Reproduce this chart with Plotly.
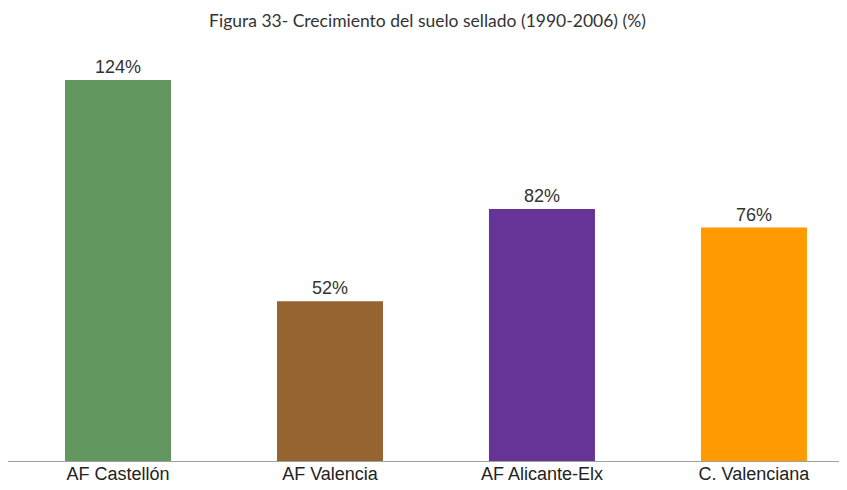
import plotly.graph_objects as go

# Crecimiento del suelo sellado 1990-2006 (%)
categories = ["AF Castellón", "AF Valencia", "AF Alicante-Elx", "C. Valenciana"]
values = [124, 52, 82, 76]
labels = ["124%", "52%", "82%", "76%"]
colors = ["#62975f", "#966430", "#663397", "#ff9a00"]

LABEL_FONT = "Liberation Sans Narrow, Liberation Sans, Arial"

fig = go.Figure(go.Bar(
    x=categories,
    y=values,
    marker_color=colors,
    marker_line_width=0,
    width=0.5,
    text=labels,
    textposition="outside",
    cliponaxis=False,
    textfont=dict(family=LABEL_FONT, size=18, color="#333333"),
))

# page has an 8px body margin, so the figure is 8px smaller than the window
fig.update_layout(
    title=dict(
        text="Figura 33- Crecimiento del suelo sellado (1990-2006) (%)",
        x=0.5, xanchor="center", y=1 - 13 / 482, yanchor="middle",
        font=dict(family="Lato, Noto Sans", size=17.5, color="#333333"),
    ),
    width=839,
    height=482,
    margin=dict(l=0, r=0, t=42, b=29),
    plot_bgcolor="white",
    paper_bgcolor="white",
    showlegend=False,
)
fig.update_xaxes(
    range=[-0.519, 3.439],
    showline=True, linecolor="#a0a0a0", linewidth=1,
    showgrid=False, ticks="",
    ticklabelstandoff=-4,
    tickfont=dict(family=LABEL_FONT, size=18, color="#222222"),
)
fig.update_yaxes(range=[0, 133.8], visible=False, showgrid=False)

fig.write_html("out.html")
